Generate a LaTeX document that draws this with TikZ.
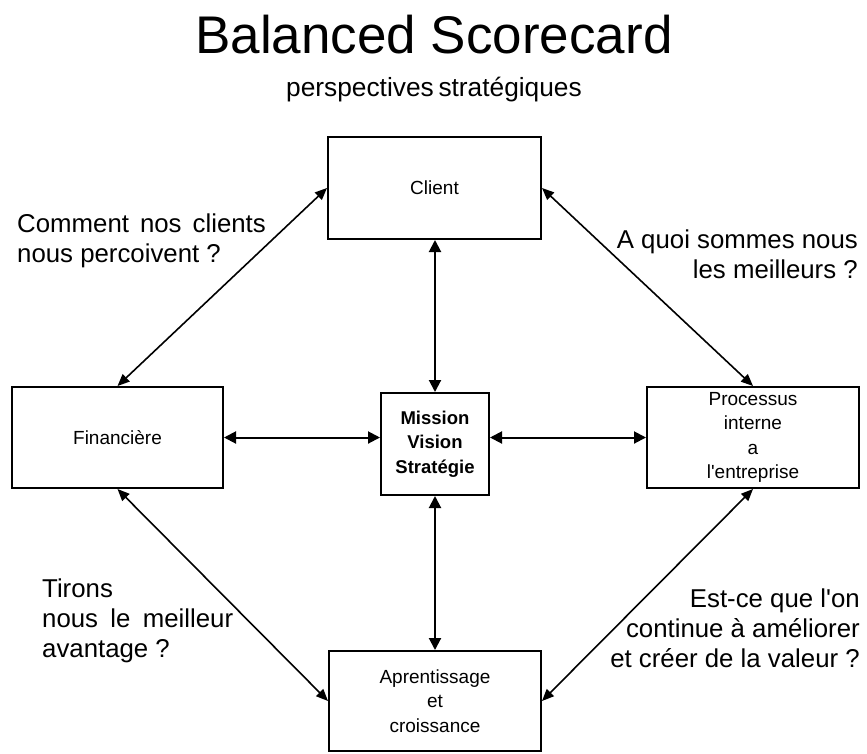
\documentclass[tikz,border=0pt]{standalone}
\usepackage{fontspec}
\setmainfont{Liberation Sans}
\usetikzlibrary{arrows.meta}
\begin{document}
\begin{tikzpicture}[x=1pt,y=-1pt,
  box/.style={draw,line width=2pt,rectangle,inner sep=0pt,align=center,
    font=\fontsize{19}{24.3}\selectfont},
  mainbox/.style={box,font=\fontsize{18.5}{24.5}\selectfont\bfseries},
  straightarrow/.style={line width=2pt,{Triangle[length=12pt,width=12pt]}-{Triangle[length=12pt,width=12pt]}},
  diagarrow/.style={line width=1.6pt,{Triangle[length=12pt,width=10pt]}-{Triangle[length=12pt,width=10pt]}},
  question/.style={inner sep=0pt,font=\fontsize{25.8}{30}\selectfont}
]
\useasboundingbox (0,0) rectangle (867,753);
\fill[white] (0,0) rectangle (867,753);

\node[anchor=base,inner sep=0pt,font=\fontsize{53}{60}\selectfont] (title) at (434,53) {Balanced Scorecard};
\node[anchor=base,inner sep=0pt,font=\fontsize{26.3}{30}\selectfont] (subtitle) at (434,96) {perspectives\hspace{0.18em}stratégiques};

\node[box,minimum width=213pt,minimum height=102pt] (client) at (434.5,188) {Client};
\node[box,minimum width=211pt,minimum height=101pt] (fin) at (117.5,437.5) {Financière};
\node[mainbox,minimum width=108pt,minimum height=102pt] (mission) at (435,444) {Mission\\Vision\\Stratégie};
\node[box,minimum width=212pt,minimum height=101pt] (proc) at (753,437.5) {Processus\\interne\\a\\l\textquotesingle entreprise};
\node[box,minimum width=212pt,minimum height=100pt] (apr) at (435,701) {Aprentissage\\et\\croissance};

\draw[straightarrow] (mission.north) -- (mission.north |- client.south);
\draw[straightarrow] (mission.south) -- (mission.south |- apr.north);
\draw[straightarrow] (fin.east) -- (fin.east -| mission.west);
\draw[straightarrow] (mission.east |- proc.west) -- (proc.west);

\draw[diagarrow] (client.west) -- (fin.north);
\draw[diagarrow] (client.east) -- (proc.north);
\draw[diagarrow] (fin.south) -- (apr.west);
\draw[diagarrow] (proc.south) -- (apr.east);

\node[question,anchor=north west,align=left] (q1) at (17,214) {Comment\hspace{0.15em} nos\hspace{0.15em} clients\\nous percoivent ?};
\node[question,anchor=north east,align=right] (q2) at (858,230) {A quoi sommes nous\\les meilleurs ?};
\node[question,anchor=north west,align=left] (q3) at (42,579) {Tirons\\nous\hspace{0.2em} le\hspace{0.2em} meilleur\\avantage ?};
\node[question,anchor=north east,align=right] (q4) at (860,589) {Est-ce que l\textquotesingle on\\continue à améliorer\\et créer de la valeur ?};
\end{tikzpicture}
\end{document}
